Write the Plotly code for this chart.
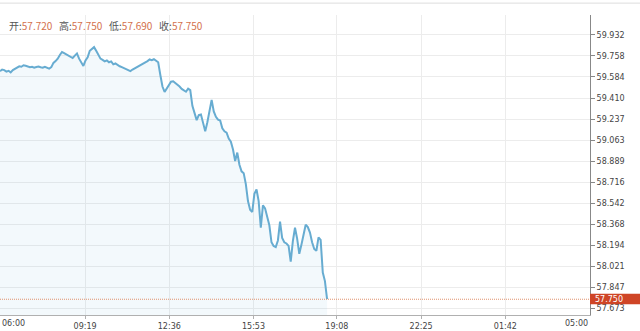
import plotly.graph_objects as go
import pandas as pd

# ---- data ----
start_time = "2024-03-01 06:00"
end_time = "2024-03-02 05:00"
step = "5min"
prices = [
    59.632, 59.645, 59.640, 59.628, 59.635, 59.622, 59.640, 59.652, 59.660, 59.672,
    59.668, 59.680, 59.676, 59.670, 59.664, 59.668, 59.660, 59.666, 59.670, 59.664,
    59.660, 59.668, 59.660, 59.652, 59.665, 59.700, 59.715, 59.735, 59.765, 59.790,
    59.780, 59.770, 59.762, 59.748, 59.740, 59.760, 59.778, 59.735, 59.700, 59.675,
    59.720, 59.745, 59.800, 59.815, 59.830, 59.800, 59.770, 59.735, 59.725, 59.712,
    59.720, 59.705, 59.712, 59.688, 59.695, 59.680, 59.672, 59.665, 59.655, 59.648,
    59.640, 59.632, 59.645, 59.655, 59.665, 59.672, 59.685, 59.695, 59.700, 59.715,
    59.728, 59.722, 59.730, 59.718, 59.705, 59.600, 59.505, 59.460, 59.490, 59.515,
    59.545, 59.548, 59.535, 59.522, 59.505, 59.485, 59.475, 59.462, 59.488, 59.475,
    59.345, 59.290, 59.228, 59.270, 59.275, 59.205, 59.135, 59.210, 59.320, 59.395,
    59.300, 59.255, 59.232, 59.225, 59.160, 59.135, 59.125, 59.075, 59.050, 58.985,
    58.890, 58.960, 58.860, 58.805, 58.790, 58.700, 58.560, 58.488, 58.470, 58.620,
    58.655, 58.560, 58.340, 58.525, 58.500, 58.420, 58.360, 58.220, 58.190, 58.180,
    58.235, 58.390, 58.255, 58.220, 58.210, 58.190, 58.060, 58.230, 58.340, 58.250,
    58.125, 58.200, 58.300, 58.365, 58.345, 58.300, 58.220, 58.165, 58.150, 58.260,
    58.240, 57.970, 57.900, 57.750,
]
y_ticks = [57.673, 57.847, 58.021, 58.194, 58.368, 58.542, 58.716, 58.889,
           59.063, 59.237, 59.410, 59.584, 59.758, 59.932]
y_range = [57.620, 60.095]
x_tick_times = ["2024-03-01 09:19", "2024-03-01 12:36", "2024-03-01 15:53",
                "2024-03-01 19:08", "2024-03-01 22:25", "2024-03-02 01:42"]
x_tick_labels = ["09:19", "12:36", "15:53", "19:08", "22:25", "01:42"]
edge_labels = ["06:00", "05:00"]
last_price = 57.750
ohlc_names = ["开", "高", "低", "收"]
ohlc_values = ["57.720", "57.750", "57.690", "57.750"]

times = pd.date_range(start_time, periods=len(prices), freq=step)

fig = go.Figure()
fig.add_trace(go.Scatter(
    x=times, y=prices, mode="lines",
    line=dict(color="#67acd1", width=2),
    fill="tozeroy", fillcolor="rgba(91,166,207,0.07)",
    hoverinfo="skip", showlegend=False,
))

tick_font = dict(family="DejaVu Sans", size=8, color="#444")

fig.update_layout(
    width=640, height=331,
    margin=dict(l=0, r=50, t=15, b=13),
    paper_bgcolor="white", plot_bgcolor="white",
    xaxis=dict(
        range=[start_time, end_time],
        tickvals=x_tick_times, ticktext=x_tick_labels,
        showgrid=True, gridcolor="#ececec", gridwidth=1,
        showline=True, linecolor="#b0b0b0", linewidth=1,
        ticks="outside", ticklen=3, tickcolor="#b0b0b0",
        tickfont=tick_font, zeroline=False, fixedrange=True,
    ),
    yaxis=dict(
        range=y_range, side="right",
        tickvals=y_ticks, ticktext=[f"{v:.3f}" for v in y_ticks],
        showgrid=True, gridcolor="#ececec", gridwidth=1,
        showline=True, linecolor="#888", linewidth=1,
        ticks="outside", ticklen=4, tickcolor="#888",
        tickfont=tick_font, zeroline=False, fixedrange=True,
    ),
)

# dotted last-price line
fig.add_shape(type="line", xref="paper", x0=0, x1=1, yref="y",
              y0=last_price, y1=last_price,
              line=dict(color="#e0906c", width=1, dash="1px,1px"))

# last price box
span = y_range[1] - y_range[0]
yp = (last_price - y_range[0]) / span
fig.add_shape(type="rect", xref="paper", x0=1, x1=1 + 50 / 590,
              yref="paper", y0=yp - 5 / 303, y1=yp + 5.5 / 303,
              fillcolor="#cf4526", line=dict(width=0), layer="above")
fig.add_annotation(xref="paper", x=1, xanchor="left", xshift=4, yref="y", y=last_price,
                   yanchor="middle", text=f"{last_price:.3f}", showarrow=False,
                   borderpad=0, font=dict(family="DejaVu Sans", size=8, color="white"))

# edge x labels
fig.add_annotation(xref="paper", x=0, xanchor="left", yref="paper", y=0,
                   yanchor="top", yshift=-2, text=edge_labels[0], showarrow=False,
                   font=tick_font)
fig.add_annotation(xref="paper", x=1, xanchor="right", yref="paper", y=0,
                   yanchor="top", yshift=-2, text=edge_labels[1], showarrow=False,
                   font=tick_font)

# header OHLC text
parts = []
for n, v in zip(ohlc_names, ohlc_values):
    parts.append(f'{n}:<span style="color:#d4714c">{v}</span>')
header = "\u00a0\u00a0\u00a0".join(parts)
fig.add_annotation(xref="paper", x=0, xanchor="left", xshift=7,
                   yref="paper", y=1, yanchor="middle", yshift=-10,
                   text=header, showarrow=False,
                   font=dict(family="Noto Sans CJK SC", size=10, color="#555"))

# top border line
fig.add_shape(type="line", xref="paper", x0=0, x1=1 + 50 / 590, yref="paper",
              y0=1 + 12 / 303, y1=1 + 12 / 303,
              line=dict(color="#dddddd", width=1))

fig.write_html("out.html")
